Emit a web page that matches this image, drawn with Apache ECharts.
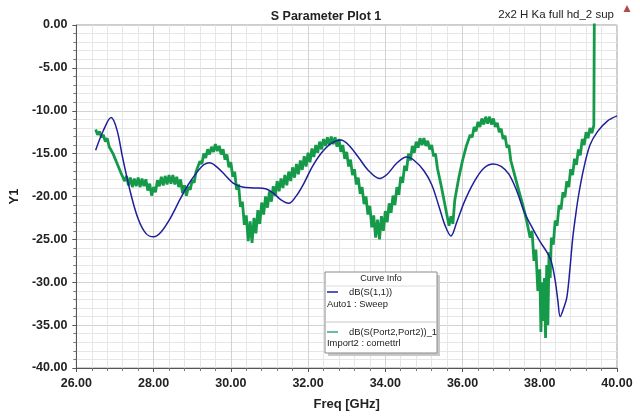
<!DOCTYPE html>
<html><head><meta charset="utf-8">
<script src="https://cdn.jsdelivr.net/npm/echarts/dist/echarts.min.js"></script>
<style>html,body{margin:0;padding:0;background:#fff}#c{width:640px;height:416px}</style>
</head><body><div id="c"></div>
<script>
const titleText = 'S Parameter Plot 1';
const subText = '2x2 H Ka full hd_2 sup';
const xRange = [26, 40];
const yRange = [-40, 0];
const legendNames = ['dB(S(1,1))', 'dB(S(Port2,Port2))_1'];
const legendSources = ['Auto1 : Sweep', 'Import2 : cornettrl'];

const blueS11 = [[26.50,-14.6],[26.70,-12.3],[26.90,-10.8],[27.05,-12.2],[27.20,-15.5],[27.40,-19.5],[27.60,-22.6],[27.80,-24.3],[28.00,-24.7],[28.20,-24.1],[28.45,-22.4],[28.70,-20.2],[28.90,-18.6],[29.10,-17.3],[29.30,-16.3],[29.45,-16.05],[29.65,-16.6],[29.85,-17.5],[30.05,-18.4],[30.30,-18.9],[30.60,-19.0],[30.90,-19.1],[31.10,-19.6],[31.30,-20.4],[31.50,-20.8],[31.70,-19.9],[31.90,-18.4],[32.10,-16.6],[32.35,-14.9],[32.60,-13.8],[32.85,-13.4],[33.05,-14.0],[33.30,-15.4],[33.55,-16.9],[33.85,-17.9],[34.05,-17.4],[34.30,-16.1],[34.55,-15.4],[34.75,-15.8],[35.00,-17.0],[35.20,-18.6],[35.40,-21.3],[35.55,-23.4],[35.70,-24.6],[35.85,-23.0],[36.05,-20.6],[36.30,-18.3],[36.55,-16.7],[36.80,-16.2],[37.00,-16.5],[37.20,-17.4],[37.40,-19.3],[37.60,-21.8],[37.80,-23.6],[38.00,-25.2],[38.20,-26.6],[38.30,-27.6],[38.40,-29.8],[38.47,-32.2],[38.53,-34.0],[38.62,-33.0],[38.70,-31.8],[38.78,-28.5],[38.85,-25.0],[38.92,-22.5],[39.00,-20.0],[39.13,-16.9],[39.30,-14.0],[39.50,-12.4],[39.75,-11.2],[40.00,-10.6]];

const greenP22 = [[26.50,-12.2],[26.55,-12.8],[26.60,-12.4],[26.65,-13.1],[26.70,-12.8],[26.75,-13.6],[26.80,-13.2],[26.85,-14.2],[26.90,-14.0],[26.95,-15.0],[27.00,-15.0],[27.05,-16.1],[27.10,-16.2],[27.15,-17.2],[27.20,-17.1],[27.25,-18.2],[27.30,-17.6],[27.35,-18.7],[27.40,-17.8],[27.45,-18.9],[27.50,-17.9],[27.55,-18.8],[27.60,-17.8],[27.65,-18.9],[27.70,-17.9],[27.75,-18.8],[27.80,-18.0],[27.85,-19.3],[27.90,-18.5],[27.95,-19.9],[28.00,-18.9],[28.05,-19.5],[28.10,-18.1],[28.15,-18.8],[28.20,-17.7],[28.25,-18.7],[28.30,-17.6],[28.35,-18.6],[28.40,-17.5],[28.45,-18.5],[28.50,-17.5],[28.55,-18.6],[28.60,-17.7],[28.65,-18.9],[28.70,-18.0],[28.75,-19.6],[28.80,-18.7],[28.85,-19.9],[28.90,-18.9],[28.95,-19.2],[29.00,-18.1],[29.05,-18.4],[29.10,-17.1],[29.15,-17.3],[29.20,-15.9],[29.25,-16.2],[29.30,-15.0],[29.35,-15.5],[29.40,-14.5],[29.45,-15.1],[29.50,-14.2],[29.55,-14.8],[29.60,-13.9],[29.65,-14.7],[29.70,-14.1],[29.75,-15.1],[29.80,-14.5],[29.85,-15.7],[29.90,-15.1],[29.95,-16.6],[30.00,-16.0],[30.05,-17.7],[30.10,-17.1],[30.15,-19.2],[30.20,-18.6],[30.25,-21.2],[30.30,-20.6],[30.35,-23.3],[30.40,-22.2],[30.45,-25.2],[30.50,-22.9],[30.55,-25.4],[30.60,-22.5],[30.65,-24.3],[30.70,-21.6],[30.75,-23.2],[30.80,-20.7],[30.85,-22.1],[30.90,-20.0],[30.95,-21.3],[31.00,-19.4],[31.05,-20.6],[31.10,-18.8],[31.15,-19.9],[31.20,-18.2],[31.25,-19.4],[31.30,-17.9],[31.35,-19.0],[31.40,-17.5],[31.45,-18.7],[31.50,-17.1],[31.55,-18.2],[31.60,-16.6],[31.65,-17.8],[31.70,-16.2],[31.75,-17.4],[31.80,-15.8],[31.85,-16.9],[31.90,-15.3],[31.95,-16.5],[32.00,-14.9],[32.05,-16.0],[32.10,-14.4],[32.15,-15.4],[32.20,-14.0],[32.25,-14.9],[32.30,-13.6],[32.35,-14.5],[32.40,-13.3],[32.45,-14.1],[32.50,-13.1],[32.55,-14.0],[32.60,-13.0],[32.65,-13.9],[32.70,-13.1],[32.75,-14.2],[32.80,-13.3],[32.85,-14.8],[32.90,-14.0],[32.95,-15.6],[33.00,-14.8],[33.05,-16.5],[33.10,-15.7],[33.15,-17.5],[33.20,-16.8],[33.25,-18.6],[33.30,-17.8],[33.35,-19.7],[33.40,-18.9],[33.45,-20.9],[33.50,-20.0],[33.55,-22.1],[33.60,-21.1],[33.65,-23.6],[33.70,-22.2],[33.75,-24.8],[33.80,-22.7],[33.85,-25.0],[33.90,-22.3],[33.95,-24.0],[34.00,-21.7],[34.05,-23.0],[34.10,-20.8],[34.15,-21.9],[34.20,-19.9],[34.25,-21.0],[34.30,-18.9],[34.35,-19.8],[34.40,-17.7],[34.45,-18.4],[34.50,-16.4],[34.55,-17.0],[34.60,-15.0],[34.65,-15.8],[34.70,-14.1],[34.75,-14.9],[34.80,-13.6],[34.85,-14.3],[34.90,-13.2],[34.95,-14.0],[35.00,-13.2],[35.05,-14.1],[35.10,-13.5],[35.15,-14.5],[35.20,-14.0],[35.25,-15.3],[35.30,-15.0],[35.35,-16.7],[35.40,-16.6],[35.45,-18.8],[35.50,-18.8],[35.55,-21.1],[35.60,-21.0],[35.65,-23.4],[35.70,-22.3],[35.75,-23.2],[35.80,-20.4],[35.85,-20.5],[35.90,-17.9],[35.95,-17.7],[36.00,-15.8],[36.05,-15.8],[36.10,-14.1],[36.15,-14.3],[36.20,-12.8],[36.25,-13.1],[36.30,-11.9],[36.35,-12.4],[36.40,-11.3],[36.45,-11.9],[36.50,-10.9],[36.55,-11.6],[36.60,-10.7],[36.65,-11.5],[36.70,-10.7],[36.75,-11.6],[36.80,-10.9],[36.85,-11.9],[36.90,-11.4],[36.95,-12.5],[37.00,-12.1],[37.05,-13.3],[37.10,-12.9],[37.15,-14.3],[37.20,-14.0],[37.25,-15.8],[37.30,-15.6],[37.35,-17.5],[37.40,-17.4],[37.45,-19.2],[37.50,-19.0],[37.55,-20.8],[37.60,-20.6],[37.65,-22.6],[37.70,-22.4],[37.75,-24.8],[37.80,-24.0],[37.85,-27.5],[37.90,-26.2],[37.95,-31.0],[38.00,-28.5],[38.03,-35.8],[38.06,-30.0],[38.09,-34.5],[38.12,-29.5],[38.15,-36.5],[38.18,-28.0],[38.21,-35.0],[38.24,-26.5],[38.27,-29.5],[38.30,-24.8],[38.35,-25.6],[38.40,-22.8],[38.45,-23.4],[38.50,-21.0],[38.55,-21.5],[38.60,-19.5],[38.65,-20.1],[38.70,-18.2],[38.75,-18.9],[38.80,-16.8],[38.85,-17.5],[38.90,-15.6],[38.95,-16.3],[39.00,-14.5],[39.05,-15.2],[39.10,-13.3],[39.15,-14.0],[39.20,-12.5],[39.25,-13.2],[39.30,-12.0],[39.35,-12.6],[39.40,-11.7],[39.42,-11.9],[39.42,8.0]];

const BLUE = '#1f1f9c';
const GREEN = '#159a4a';
const chart = echarts.init(document.getElementById('c'), null, {renderer: 'canvas'});
const font = 'Liberation Sans, Arial, sans-serif';

const lx = 325, ly = 272, lw = 112, lh = 81;
chart.setOption({
  animation: false,
  backgroundColor: '#fff',
  textStyle: {fontFamily: font},
  title: {text: titleText, left: 321, top: 5, textAlign: 'center',
    textStyle: {fontSize: 12.5, fontWeight: 'bold', color: '#222', fontFamily: font}},
  grid: {left: 73, right: 23, top: 25, bottom: 48, show: true, borderColor: '#9a9a9a', borderWidth: 1},
  xAxis: {
    type: 'value', min: xRange[0], max: xRange[1], interval: 2,
    name: 'Freq [GHz]', nameLocation: 'middle', nameGap: 30,
    nameTextStyle: {fontSize: 13, fontWeight: 'bold', color: '#222', fontFamily: font},
    axisLine: {show: true, onZero: false, lineStyle: {color: '#555', width: 1}},
    axisTick: {show: true, inside: false, length: 4, lineStyle: {color: '#555'}},
    minorTick: {show: true, splitNumber: 5, length: 3, lineStyle: {color: '#777'}},
    axisLabel: {margin: 9, fontSize: 12.5, fontWeight: 'bold', color: '#222', fontFamily: font,
      formatter: v => v.toFixed(2)},
    splitLine: {show: true, lineStyle: {color: '#d2d2d2', width: 1}},
    minorSplitLine: {show: true, lineStyle: {color: '#e6e6e6', width: 1}}
  },
  yAxis: {
    type: 'value', min: yRange[0], max: yRange[1], interval: 5,
    name: 'Y1', nameLocation: 'middle', nameGap: 52, nameRotate: 90,
    nameTextStyle: {fontSize: 13, fontWeight: 'bold', color: '#222', fontFamily: font},
    axisLine: {show: true, onZero: false, lineStyle: {color: '#555', width: 1}},
    axisTick: {show: true, inside: false, length: 4, lineStyle: {color: '#555'}},
    minorTick: {show: true, splitNumber: 5, length: 3, lineStyle: {color: '#777'}},
    axisLabel: {margin: 9, fontSize: 12.5, fontWeight: 'bold', color: '#222', fontFamily: font,
      formatter: v => v.toFixed(2)},
    splitLine: {show: true, lineStyle: {color: '#d2d2d2', width: 1}},
    minorSplitLine: {show: true, lineStyle: {color: '#e6e6e6', width: 1}}
  },
  series: [
    {type: 'line', name: legendNames[1], data: greenP22, showSymbol: false, symbol: 'none',
      lineStyle: {color: GREEN, width: 2.8}, clip: true, z: 2},
    {type: 'line', name: legendNames[0], data: blueS11, showSymbol: false, symbol: 'none', smooth: 0.35,
      lineStyle: {color: BLUE, width: 1.5}, clip: true, z: 3}
  ],
  graphic: [
    {type: 'text', right: 26, top: 9, style: {text: subText, font: '11.5px ' + font, fill: '#222'}},
    {type: 'polygon', shape: {points: [[627, 5], [623.5, 12], [630.5, 12]]}, style: {fill: '#b04a4a'}},
    {type: 'rect', shape: {x: lx + 3, y: ly + 3, width: lw, height: lh}, style: {fill: '#c8c8c8'}, z: 10},
    {type: 'rect', shape: {x: lx, y: ly, width: lw, height: lh}, style: {fill: '#fff', stroke: '#8a8a8a', lineWidth: 1}, z: 11},
    {type: 'text', x: lx + lw / 2, y: ly + 7, style: {text: 'Curve Info', font: '9px ' + font, fill: '#222', align: 'center', verticalAlign: 'middle'}, z: 12},
    {type: 'line', shape: {x1: lx, y1: ly + 14, x2: lx + lw, y2: ly + 14}, style: {stroke: '#dcdcdc', lineWidth: 1}, z: 12},
    {type: 'line', shape: {x1: lx + 2, y1: ly + 20, x2: lx + 13, y2: ly + 20}, style: {stroke: BLUE, lineWidth: 1.5}, z: 12},
    {type: 'text', x: lx + 24, y: ly + 20, style: {text: legendNames[0], font: '9.4px ' + font, fill: '#222', verticalAlign: 'middle'}, z: 12},
    {type: 'text', x: lx + 2, y: ly + 32, style: {text: legendSources[0], font: '9.4px ' + font, fill: '#222', verticalAlign: 'middle'}, z: 12},
    {type: 'line', shape: {x1: lx, y1: ly + 50, x2: lx + lw, y2: ly + 50}, style: {stroke: '#c8c8c8', lineWidth: 1}, z: 12},
    {type: 'line', shape: {x1: lx + 2, y1: ly + 60, x2: lx + 13, y2: ly + 60}, style: {stroke: '#3aa57c', lineWidth: 1.5}, z: 12},
    {type: 'text', x: lx + 24, y: ly + 60, style: {text: legendNames[1], font: '9.4px ' + font, fill: '#222', verticalAlign: 'middle'}, z: 12},
    {type: 'text', x: lx + 2, y: ly + 71, style: {text: legendSources[1], font: '9.4px ' + font, fill: '#222', verticalAlign: 'middle'}, z: 12}
  ]
});
</script></body></html>
